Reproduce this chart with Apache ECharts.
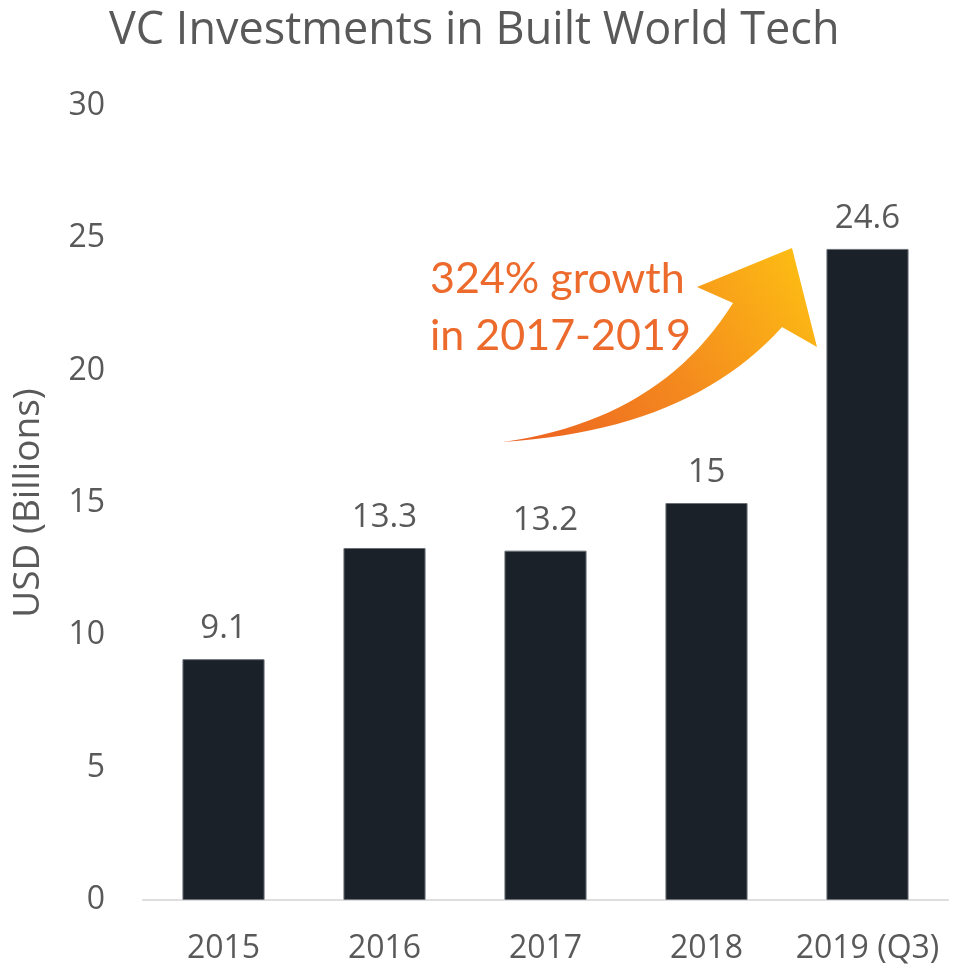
<!DOCTYPE html>
<html>
<head>
<meta charset="utf-8">
<script src="https://cdn.jsdelivr.net/npm/echarts@6/dist/echarts.min.js"></script>
<style>
  html, body { margin: 0; padding: 0; background: #fff; }
  #main { width: 956px; height: 970px; }
</style>
</head>
<body>
<div id="main"></div>
<script>
var years = ['2015', '2016', '2017', '2018', '2019 (Q3)'];
var investments = [9.1, 13.3, 13.2, 15, 24.6];
var growthText = ['324% growth', 'in 2017-2019'];

var textGray = '#595959';
var chart = echarts.init(document.getElementById('main'));

// quadratic curve sampled into points (arrow outline only)
function quad(p0, c, p1, n) {
    var pts = [];
    for (var i = 0; i <= n; i++) {
        var t = i / n, u = 1 - t;
        pts.push([u * u * p0[0] + 2 * u * t * c[0] + t * t * p1[0],
                  u * u * p0[1] + 2 * u * t * c[1] + t * t * p1[1]]);
    }
    return pts;
}
var arrowPts = quad([503, 442], [660, 420], [733, 303], 24)
    .concat([[697, 287], [792, 248], [817, 347]])
    .concat(quad([782, 327], [690, 430], [503, 442], 24));

var option = {
    animation: false,
    backgroundColor: '#fff',
    title: {
        text: 'VC Investments in Built World Tech',
        left: 104,
        top: 4,
        textStyle: {
            fontFamily: 'Open Sans',
            fontWeight: 'normal',
            fontSize: 45,
            color: textGray
        }
    },
    grid: {
        left: 143,
        right: 8,
        top: 106,
        bottom: 70,
        containLabel: false,
        outerBoundsMode: 'none'
    },
    xAxis: {
        type: 'category',
        data: years,
        axisLine: { lineStyle: { color: '#dedede', width: 2 } },
        axisTick: { show: false },
        axisLabel: {
            interval: 0,
            fontFamily: 'Open Sans',
            fontSize: 32,
            color: textGray,
            margin: 33
        }
    },
    yAxis: {
        type: 'value',
        min: 0,
        max: 30,
        interval: 5,
        name: 'USD (Billions)',
        nameLocation: 'middle',
        nameGap: 96,
        nameTextStyle: {
            fontFamily: 'Open Sans',
            fontSize: 37,
            color: textGray
        },
        axisLine: { show: false },
        axisTick: { show: false },
        splitLine: { show: false },
        axisLabel: {
            fontFamily: 'Open Sans',
            fontSize: 32,
            color: textGray,
            margin: 38
        }
    },
    series: [{
        type: 'bar',
        data: investments,
        barWidth: '51%',
        itemStyle: {
            color: '#1b2129',
            borderColor: '#6b7077',
            borderWidth: 1
        },
        label: {
            show: true,
            position: 'top',
            distance: 14,
            fontFamily: 'Open Sans',
            fontSize: 33,
            color: textGray
        }
    }],
    // growth arrow + note
    graphic: [
        {
            type: 'polygon',
            shape: { points: arrowPts },
            style: {
                fill: {
                    type: 'linear',
                    x: 0, y: 1, x2: 1, y2: 0,
                    colorStops: [
                        { offset: 0, color: '#ec5f22' },
                        { offset: 0.5, color: '#f48a1e' },
                        { offset: 1, color: '#fec212' }
                    ]
                }
            }
        },
        {
            type: 'text',
            left: 430,
            top: 258,
            style: {
                text: growthText[0],
                fontFamily: 'Lato',
                fontSize: 43,
                fill: '#ec6a2b'
            }
        },
        {
            type: 'text',
            left: 430,
            top: 315,
            style: {
                text: growthText[1],
                fontFamily: 'Lato',
                fontSize: 43,
                fill: '#ec6a2b'
            }
        }
    ]
};
chart.setOption(option);
</script>
</body>
</html>
